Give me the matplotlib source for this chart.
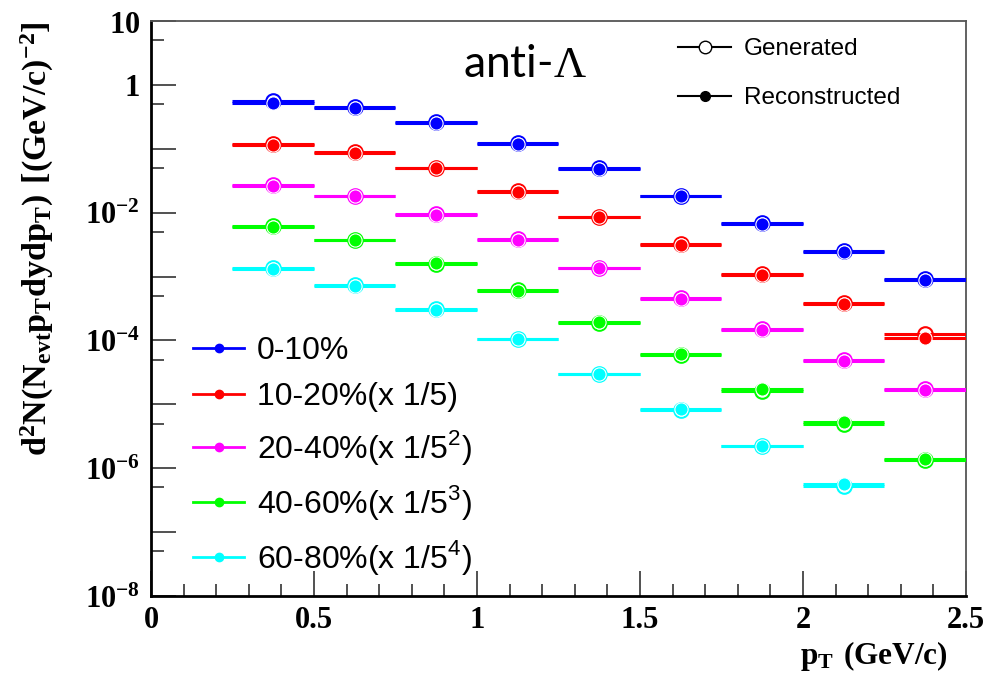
import matplotlib
matplotlib.use("Agg")
import matplotlib.pyplot as plt
import numpy as np
from matplotlib.lines import Line2D
from matplotlib.ticker import FixedLocator, FixedFormatter, MultipleLocator

plt.rcParams["mathtext.fontset"] = "custom"
plt.rcParams["mathtext.rm"] = "Liberation Serif"
plt.rcParams["mathtext.bf"] = "Liberation Serif:bold"
plt.rcParams["mathtext.sf"] = "Liberation Sans"

# pT bins (GeV/c): centres, half width 0.125
pt_centers = [0.375, 0.625, 0.875, 1.125, 1.375, 1.625, 1.875, 2.125, 2.375]
bin_half = 0.125

# spectra (already scaled by 1/5^n)
blue_reco = [0.52, 0.43, 0.255, 0.120, 0.049, 0.0181, 0.0067, 0.0024, 0.00090]
blue_gen = [0.56, 0.45, 0.265, 0.125, 0.051, 0.0185, 0.0068, 0.0025, 0.00092]
red_reco = [0.115, 0.086, 0.050, 0.0215, 0.0086, 0.0031, 0.00107, 0.00037, 0.000108]
red_gen = [0.121, 0.089, 0.051, 0.0222, 0.0087, 0.0032, 0.00110, 0.00039, 0.000127]
magenta_reco = [0.026, 0.0180, 0.0093, 0.0037, 0.00135, 0.00045, 0.000147, 4.8e-5, 1.65e-5]
magenta_gen = [0.0275, 0.0186, 0.0096, 0.0039, 0.00138, 0.00046, 0.000152, 5.0e-5, 1.73e-5]
green_reco = [0.0059, 0.0037, 0.00165, 0.00060, 0.000197, 6.1e-5, 1.72e-5, 5.3e-6, 1.42e-6]
green_gen = [0.0062, 0.0038, 0.00160, 0.00061, 0.000190, 6.0e-5, 1.60e-5, 5.0e-6, 1.33e-6]
cyan_reco = [0.00130, 0.00072, 0.00030, 0.000104, 2.95e-5, 8.4e-6, 2.27e-6, 5.6e-7]
cyan_gen = [0.00135, 0.00074, 0.00031, 0.000106, 3.0e-5, 8.2e-6, 2.2e-6, 5.3e-7]

labels = ["0-10%", "10-20%(x 1/5)", r"20-40%(x 1/5$^{\mathsf{2}}$)",
          r"40-60%(x 1/5$^{\mathsf{3}}$)", r"60-80%(x 1/5$^{\mathsf{4}}$)"]
colors = ["#0000ff", "#ff0000", "#ff00ff", "#00ff00", "#00ffff"]
reco = [blue_reco, red_reco, magenta_reco, green_reco, cyan_reco]
gen = [blue_gen, red_gen, magenta_gen, green_gen, cyan_gen]

y_tick_vals = [1e-8, 1e-7, 1e-6, 1e-5, 1e-4, 1e-3, 1e-2, 1e-1, 1, 10]
y_tick_labels = [r"$\mathbf{10^{-8}}$", "", r"$\mathbf{10^{-6}}$", "", r"$\mathbf{10^{-4}}$", "",
                 r"$\mathbf{10^{-2}}$", "", r"$\mathbf{1}$", r"$\mathbf{10}$"]

fig = plt.figure(figsize=(9.98, 6.74), dpi=100)
ax = fig.add_axes([0.1513, 0.1157, 0.8166, 0.853])

for c, r, g in zip(colors, reco, gen):
    x = pt_centers[:len(r)]
    ax.errorbar(x, g, xerr=bin_half, fmt="o", color=c, ms=10.5, mfc="none", mec=c,
                mew=1.5, elinewidth=2.2, capsize=0, zorder=3)
    ax.errorbar(x, r, xerr=bin_half, fmt="o", color=c, ms=9.5, mfc=c, mec="white",
                mew=0.8, elinewidth=2.2, capsize=0, zorder=4)

ax.set_yscale("log")
ax.set_ylim(1e-8, 10)
ax.set_xlim(0, 2.5)

ax.yaxis.set_major_locator(FixedLocator(y_tick_vals))
ax.yaxis.set_major_formatter(FixedFormatter(y_tick_labels))
ax.yaxis.set_minor_locator(FixedLocator([5 * v for v in y_tick_vals[:-1]]))
ax.yaxis.set_minor_formatter(FixedFormatter([]))
ax.xaxis.set_major_locator(MultipleLocator(0.5))
ax.xaxis.set_minor_locator(MultipleLocator(0.1))
ax.xaxis.set_major_formatter(plt.FuncFormatter(lambda v, p: "%g" % v))

ax.tick_params(which="both", direction="in", top=False, right=False, width=1.2, color="#333333")
ax.tick_params(which="major", length=18)
ax.tick_params(which="minor", length=9)
ax.tick_params(axis="y", which="major", pad=8, labelsize=22)
ax.tick_params(axis="x", which="major", pad=7)
for lab in ax.get_xticklabels():
    lab.set_fontfamily("Liberation Serif")
    lab.set_fontweight("bold")
    lab.set_fontsize(22)

for side in ["left", "bottom"]:
    ax.spines[side].set_linewidth(2.0)
for side in ["top", "right"]:
    ax.spines[side].set_linewidth(1.3)
    ax.spines[side].set_color("#555555")

ax.set_xlabel(r"$\mathbf{p_{T}\ (GeV/c)}$", fontsize=22.5, loc="right")
ax.xaxis.set_label_coords(0.978, -0.074)
ax.set_ylabel(r"$\mathbf{d^{2}N(N_{evt}p_{T}dydp_{T})\ [(GeV/c)^{-2}]}$", fontsize=24.5, loc="top")
ax.yaxis.set_label_coords(-0.116, 1.0)

ax.text(0.383, 0.903, r"anti-$\Lambda$", transform=ax.transAxes, fontsize=32,
        fontfamily="Lato", va="baseline")

cent_handles = [Line2D([], [], color=c, marker="o", ms=6, lw=2) for c in colors]
leg1 = ax.legend(cent_handles, labels, loc="upper left", bbox_to_anchor=(0.0515, 0.452),
                 frameon=False, borderpad=0, borderaxespad=0, handlelength=1.6,
                 handletextpad=0.4, labelspacing=0.5,
                 prop={"family": "Liberation Sans", "size": 23})
ax.add_artist(leg1)

type_handles = [Line2D([], [], color="black", marker="o", ms=9, mfc="white", lw=1.5),
                Line2D([], [], color="black", marker="o", ms=7, mfc="black", lw=1.5)]
ax.legend(type_handles, ["Generated", "Reconstructed"], loc="upper left",
          bbox_to_anchor=(0.6466, 0.970), frameon=False, borderpad=0, borderaxespad=0,
          handlelength=2.2, handletextpad=0.5, labelspacing=1.1,
          prop={"family": "Liberation Sans", "size": 17.5})

fig.savefig("out.png", dpi=100)
